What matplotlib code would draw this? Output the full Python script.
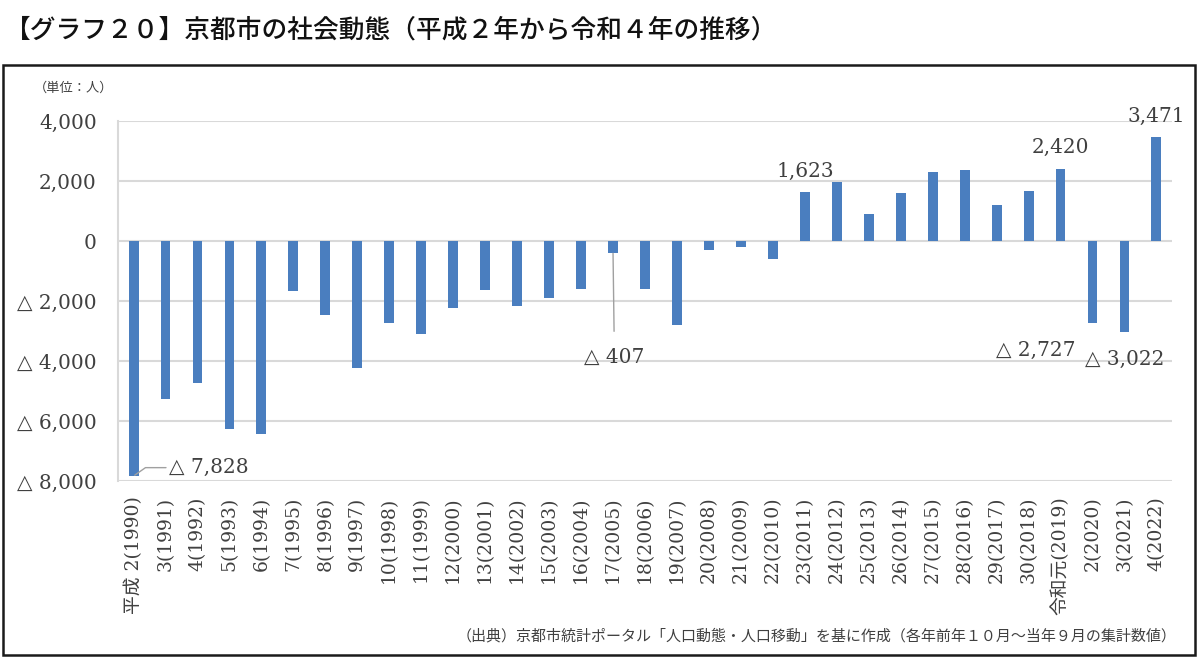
import matplotlib
matplotlib.use("Agg")
import matplotlib.pyplot as plt
from matplotlib.patches import Rectangle
from matplotlib.ticker import FuncFormatter

# データ（京都市の社会動態、単位：人）
era_labels = ["平成 2", "3", "4", "5", "6", "7", "8", "9", "10", "11", "12",
              "13", "14", "15", "16", "17", "18", "19", "20", "21", "22",
              "23", "24", "25", "26", "27", "28", "29", "30", "令和元",
              "2", "3", "4"]
years = list(range(1990, 2023))
values = [-7828, -5260, -4720, -6250, -6420, -1670, -2470, -4220, -2730,
          -3090, -2240, -1640, -2170, -1910, -1600, -407, -1580, -2780,
          -300, -200, -580, 1623, 1980, 890, 1600, 2310, 2380, 1210, 1670,
          2420, -2727, -3022, 3471]
y_ticks = [4000, 2000, 0, -2000, -4000, -6000, -8000]

title = "【グラフ２０】京都市の社会動態（平成２年から令和４年の推移）"
unit = "（単位：人）"
source = "（出典）京都市統計ポータル「人口動態・人口移動」を基に作成（各年前年１０月～当年９月の集計数値）"

jp = ["Noto Sans CJK JP", "DejaVu Sans"]
serif = ["DejaVu Serif", "DejaVu Sans", "Noto Sans CJK JP"]
text_col = "#404040"
bar_col = "#4a7ebf"
grid_col = "#d9d9d9"


def fmt(v, pos=None):
    if v < 0:
        return "△ {:,.0f}".format(-v)
    return "{:,.0f}".format(v)


fig = plt.figure(figsize=(12, 6.6), dpi=100)
ax = fig.add_axes([0.098, 0.271, 0.879, 0.5455])

x = list(range(len(values)))
ax.bar(x, values, width=0.31, color=bar_col, zorder=3)

ax.set_xlim(-0.5, len(values) - 0.5)
ax.set_ylim(-8000, 4000)
ax.set_yticks(y_ticks)
ax.yaxis.set_major_formatter(FuncFormatter(fmt))
ax.set_xticks(x)
ax.set_xticklabels([f"{e}({y})" for e, y in zip(era_labels, years)],
                   rotation=90, family=serif, fontsize=13.5, color=text_col)
for lab in ax.get_yticklabels():
    lab.set_family(serif)
ax.tick_params(axis="y", length=0, pad=15, labelsize=14.5, labelcolor=text_col)
ax.tick_params(axis="x", length=0, pad=11)

ax.grid(axis="y", color=grid_col, lw=1.5, zorder=0)
for s in ["top", "right", "bottom"]:
    ax.spines[s].set_visible(False)
ax.spines["left"].set_color(grid_col)
ax.spines["left"].set_linewidth(1.5)

# データラベル
lab_kw = dict(family=serif, fontsize=14.5, color=text_col, textcoords="offset points")
for i in [21, 29, 32]:
    ax.annotate(fmt(values[i]), (i, values[i]), xytext=(0, 8),
                ha="center", va="bottom", **lab_kw)
ax.annotate(fmt(values[0]), (0, values[0]), xytext=(54, 6),
            ha="center", va="center",
            arrowprops=dict(arrowstyle="-", color="#a0a0a0", lw=1,
                            shrinkA=0, shrinkB=1,
                            connectionstyle="angle,angleA=0,angleB=35,rad=0"),
            **lab_kw)
ax.annotate(fmt(values[15]), (15, values[15]), xytext=(1, -75),
            ha="center", va="center",
            arrowprops=dict(arrowstyle="-", color="#a0a0a0", lw=1,
                            shrinkA=10, shrinkB=0),
            **lab_kw)
ax.annotate(fmt(values[30]), (30, values[30]), xytext=(-41, -20),
            ha="center", va="center", **lab_kw)
ax.annotate(fmt(values[31]), (31, values[31]), xytext=(0, -20),
            ha="center", va="center", **lab_kw)

# 枠とテキスト
fig.patches.append(Rectangle((0.0025, 0.008), 0.9935, 0.893, transform=fig.transFigure,
                             fill=False, edgecolor="#1a1a1a", lw=1.8))
fig.text(0.004, 0.955, title, family=jp, fontsize=18.5, fontweight="medium",
         va="center", ha="left", color="#111111")
fig.text(0.028, 0.867, unit, family=jp, fontsize=9.5, va="center", color=text_col)
fig.text(0.98, 0.036, source, family=jp, fontsize=10.8, va="center", ha="right",
         color=text_col)

fig.savefig("out.png", dpi=100)
